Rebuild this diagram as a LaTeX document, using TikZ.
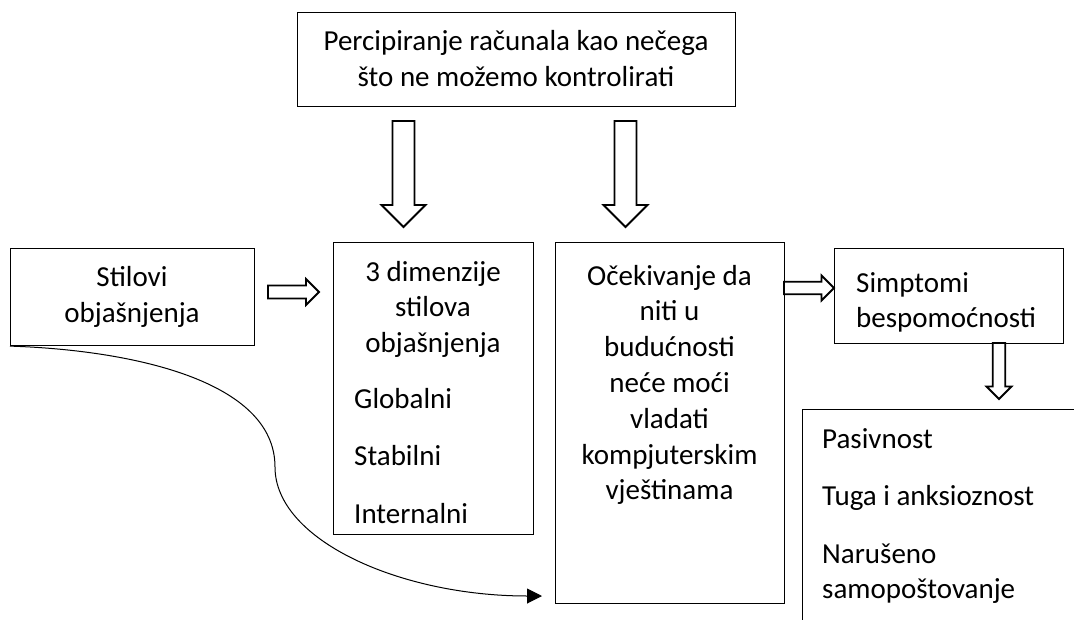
\documentclass[tikz,border=0pt]{standalone}
\usepackage{fontspec}
\setmainfont{Carlito}
\usetikzlibrary{arrows.meta}
\newcommand\blkdown[4]{% center, top, tip, half width of head
  \draw[blk] ({#1-#4/2},#2) -- ({#1+#4/2},#2) -- ({#1+#4/2},{#3-#4}) -- ({#1+#4},{#3-#4})
    -- (#1,#3) -- ({#1-#4},{#3-#4}) -- ({#1-#4/2},{#3-#4}) -- cycle;}
\newcommand\blkright[4]{% center y, left, tip, half height of head
  \draw[blk] (#2,{#1-#4/2}) -- ({#3-#4},{#1-#4/2}) -- ({#3-#4},{#1-#4}) -- (#3,#1)
    -- ({#3-#4},{#1+#4}) -- ({#3-#4},{#1+#4/2}) -- (#2,{#1+#4/2}) -- cycle;}
\begin{document}
\begin{tikzpicture}[x=1pt,y=-1pt,
  box/.style={draw=black, line width=1.1pt, fill=white, inner sep=0pt, anchor=north west},
  txt/.style={inner sep=0pt, anchor=base, font=\fontsize{29}{35.8}\selectfont},
  blk/.style={draw=black, line width=1.8pt, fill=white, line join=miter},
  conn/.style={draw=black, line width=1pt, -{Triangle[length=15pt,width=15pt]}}]
\clip (0,0) rectangle (1074,619);
\fill[white] (0,0) rectangle (1074,619);
% boxes
\node[box, minimum width=438pt, minimum height=94pt] (top) at (297,12) {};
\node[box, minimum width=244pt, minimum height=97pt] (stil) at (10,248) {};
\node[box, minimum width=200pt, minimum height=292pt] (dim) at (333,242) {};
\node[box, minimum width=229pt, minimum height=361pt] (ocek) at (555,242) {};
\node[box, minimum width=229pt, minimum height=95pt] (simp) at (834,248) {};
\node[box, minimum width=320pt, minimum height=260pt] (list) at (802,409) {};
% texts (anchor = baseline of the last line)
\node[txt, align=center] (toptxt) at (516,86) {Percipiranje računala kao nečega\\što ne možemo kontrolirati};
\node[txt, align=center] (stiltxt) at (132,322) {Stilovi\\objašnjenja};
\node[txt, align=center] (dimtxt) at (433,352.6) {3 dimenzije\\stilova\\objašnjenja};
\node[txt, align=left, anchor=base west] (dimlist) at (354,523) {Globalni\\[21.2pt]Stabilni\\[22pt]Internalni};
\node[txt, align=center] (ocektxt) at (669.5,499.8) {Očekivanje da\\niti u\\budućnosti\\neće moći\\vladati\\kompjuterskim\\vještinama};
\node[txt, align=left, anchor=base west] (simptxt) at (856,327.8) {Simptomi\\bespomoćnosti};
\node[txt, align=left, anchor=base west] (listtxt) at (822,598.8) {Pasivnost\\[21.2pt]Tuga i anksioznost\\[22.2pt]Narušeno\\samopoštovanje};
% block arrows
\blkdown{403.5}{121}{227}{22}
\blkdown{625.5}{121}{227}{22}
\blkdown{999}{343}{399}{12.5}
\blkright{292}{268}{319}{13}
\blkright{288}{784}{834}{12.5}
% curved connector
\coordinate (cend) at (542,596);
\path[conn] (stil.south west) .. controls (130,350) and (275,380) .. (275,467)
  .. controls (275,540) and (400,596) .. (cend);
\end{tikzpicture}
\end{document}
